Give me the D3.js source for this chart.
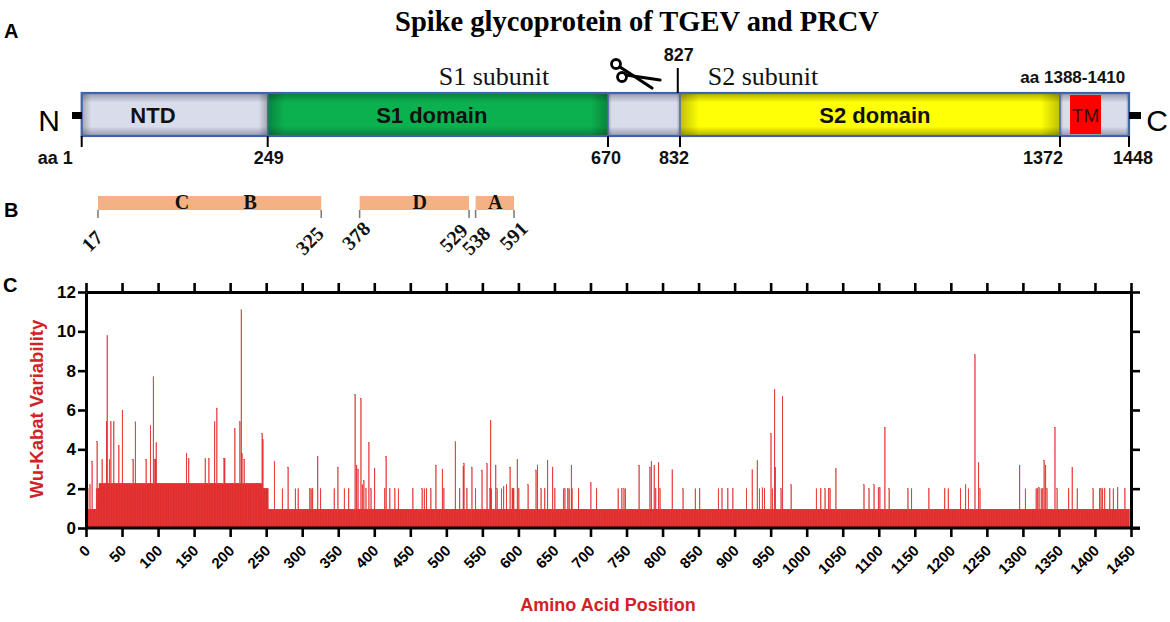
<!DOCTYPE html>
<html><head><meta charset="utf-8">
<script src="https://cdn.jsdelivr.net/npm/d3@7"></script>
<style>body{margin:0;background:#fff}svg{display:block}</style>
</head><body><svg id="c" width="1170" height="622"></svg>
<script>
// ---------------- DATA ----------------
const figureTitle = "Spike glycoprotein of TGEV and PRCV";
const proteinLength = 1448;
const proteinDomains = [
  {name:"NTD", start:1, end:249, labelAt:96, kind:"plain"},
  {name:"S1 domain", start:249, end:670, labelAt:452, kind:"s1"},
  {name:"", start:670, end:832, kind:"plain"},
  {name:"S2 domain", start:832, end:1372, labelAt:1109, kind:"s2"},
  {name:"", start:1372, end:1448, kind:"plain"}
];
const tmRegion = {name:"TM", start:1388, end:1410, label:"aa 1388-1410"};
const boundaryTicks = [1, 249, 670, 832, 1372, 1448];
const boundaryLabels = ["aa 1", "249", "670", "832", "1372", "1448"];
const cleavageSite = 827;
const subunitLabels = [{text:"S1 subunit", at:529}, {text:"S2 subunit", at:950}];

const epitopeRegions = [{start:17, end:325}, {start:378, end:529}, {start:538, end:591}];
const epitopeSites = [{site:"C", at:133}, {site:"B", at:227}, {site:"D", at:461}, {site:"A", at:565}];
const epitopeTicks = [17, 325, 378, 529, 538, 591];

// Wu-Kabat variability: baseline runs [start, end, value] and individual peaks [position, value]
const baseRuns = [[1,14,0.95],[15,18,2.0],[19,244,2.25],[245,253,2.0],[254,1448,0.95]];
const peaks = [
 [1,5.1],[3,2.0],[6,2.2],[9,3.4],[16,4.4],[23,3.5],[29,5.4],[30,9.8],[33,3.5],[35,5.4],[39,5.4],
 [46,4.2],[51,6.0],[66,3.5],[69,5.4],[84,3.5],[90,5.2],[94,7.7],[96,3.5],[97,3.5],[98,4.35],
 [140,3.8],[143,3.55],[166,3.55],[171,3.55],[179,5.4],[182,6.1],[192,3.55],[193,3.55],
 [207,5.05],[214,5.4],[216,11.1],[217,3.8],[220,3.5],[245,4.8],[246,4.5],
 [262,3.4],[273,2.0],[281,3.1],[291,2.0],[295,2.0],[311,2.0],[313,2.0],[315,2.0],[322,3.65],[326,2.0],
 [345,2.0],[350,3.1],[359,2.0],[365,2.0],[374,6.8],[376,3.2],[378,3.0],[382,6.6],[384,2.2],[386,2.4],
 [389,2.0],[393,4.35],[396,2.0],[401,3.05],[415,2.0],[417,3.65],[422,2.0],[429,2.0],[434,2.0],
 [454,2.0],[467,2.0],[470,2.0],[473,2.0],[479,2.0],[486,3.2],[495,3.0],[497,2.0],[513,4.4],[519,2.0],
 [524,3.15],[525,3.3],[529,2.0],[536,3.1],[541,2.0],[550,2.95],[557,3.27],[561,2.0],[562,5.48],[563,2.0],
 [569,3.2],[571,2.0],[577,2.0],[580,2.1],[584,2.2],[589,3.1],[592,2.0],[593,2.0],[594,2.0],[599,3.5],
 [601,2.0],[614,2.2],[625,2.95],[627,3.2],[632,2.0],[637,2.0],[641,3.44],[648,3.1],[651,2.0],[663,2.0],
 [665,2.0],[669,2.0],[671,2.0],[674,3.2],[675,2.0],[684,2.0],[701,2.3],[709,2.0],[739,2.0],[744,2.0],
 [747,2.0],[749,2.0],[768,3.2],[783,3.1],[785,3.4],[789,3.2],[791,2.0],[795,3.33],[797,2.0],[814,2.96],
 [829,2.0],[846,2.0],[852,2.0],[878,2.0],[883,2.0],[891,2.0],[898,2.0],[917,2.0],[925,2.96],[932,3.44],
 [935,2.0],[939,2.05],[942,2.0],[951,4.8],[953,2.0],[956,7.05],[957,3.1],[965,2.0],[967,6.7],[979,2.2],
 [1014,2.0],[1020,2.0],[1026,2.0],[1031,2.0],[1033,2.0],[1041,3.02],[1080,2.2],[1087,2.0],[1094,2.2],
 [1100,2.05],[1102,2.05],[1109,5.13],[1115,2.0],[1141,2.0],[1146,2.0],[1170,2.0],[1192,2.0],[1197,2.0],
 [1214,2.0],[1221,2.2],[1225,2.0],[1234,8.81],[1239,3.33],[1241,2.0],[1296,3.2],[1304,2.0],[1319,2.0],
 [1321,2.0],[1323,2.05],[1326,2.0],[1328,2.0],[1330,3.44],[1332,3.2],[1334,2.0],[1345,5.13],[1348,2.0],
 [1364,2.0],[1369,3.1],[1376,2.0],[1398,2.0],[1407,2.0],[1409,2.0],[1411,2.0],[1414,2.0],[1421,2.0],
 [1426,2.0],[1432,2.05],[1442,2.0]
];
const xTickValues = [0,50,100,150,200,250,300,350,400,450,500,550,600,650,700,750,800,850,900,950,1000,1050,1100,1150,1200,1250,1300,1350,1400,1450];
const yTickValues = [0,2,4,6,8,10,12];
const yTitle = "Wu-Kabat Variability";
const xTitle = "Amino Acid Position";

// ---------------- DRAW ----------------
const svg = d3.select("#c");
const SANS = "'Liberation Sans', Arial, sans-serif";
const SERIF = "'Liberation Serif', 'Times New Roman', serif";
const defs = svg.append("defs");

function vGrad(id, edge, mid) {
  const g = defs.append("linearGradient").attr("id", id).attr("x1",0).attr("y1",0).attr("x2",0).attr("y2",1);
  [[0,edge],[0.22,mid],[0.78,mid],[1,edge]].forEach(([o,c]) => g.append("stop").attr("offset",o).attr("stop-color",c));
}
vGrad("gPlain", "#9498aa", "#d9dceb");
vGrad("gS1", "#0a7f37", "#0bb04f");
vGrad("gS2", "#b0ac00", "#ffff06");
const hg = defs.append("linearGradient").attr("id","gSide").attr("x1",0).attr("y1",0).attr("x2",1).attr("y2",0);
[[0,0.25],[0.05,0],[0.95,0],[1,0.25]].forEach(([o,a]) => hg.append("stop").attr("offset",o).attr("stop-color","#000").attr("stop-opacity",a));
const fillFor = {plain:"url(#gPlain)", s1:"url(#gS1)", s2:"url(#gS2)"};

// Panel letters
[["A",4,38],["B",4,217],["C",3,292]].forEach(([t,x,y]) =>
  svg.append("text").attr("x",x).attr("y",y).attr("font-family",SANS).attr("font-weight","bold").attr("font-size",20).text(t));

// Title
svg.append("text").attr("x",637).attr("y",31).attr("text-anchor","middle").attr("font-family",SERIF)
  .attr("font-weight","bold").attr("font-size",28.5).text(figureTitle);

// ---- Panel A: domain schematic (schematic, not to scale) ----
const aScale = d3.scaleLinear()
  .domain([1, 249, 670, 832, 1372, 1388, 1410, 1448])
  .range([81.7, 267.7, 608, 680, 1060, 1070, 1101, 1129]);
const barTop = 93, barH = 43;
const gA = svg.append("g");
gA.selectAll("rect.seg").data(proteinDomains).join("rect").attr("class","seg")
  .attr("x", d => aScale(d.start)).attr("y", barTop)
  .attr("width", d => aScale(d.end) - aScale(d.start)).attr("height", barH)
  .attr("fill", d => fillFor[d.kind]);
gA.selectAll("rect.side").data(proteinDomains).join("rect").attr("class","side")
  .attr("x", d => aScale(d.start)).attr("y", barTop)
  .attr("width", d => aScale(d.end) - aScale(d.start)).attr("height", barH)
  .attr("fill", "url(#gSide)");
gA.append("rect").attr("x", aScale(tmRegion.start)).attr("y", barTop + 2)
  .attr("width", aScale(tmRegion.end) - aScale(tmRegion.start)).attr("height", barH - 4).attr("fill", "#ff0000");
gA.selectAll("line.div").data(proteinDomains.slice(1)).join("line").attr("class","div")
  .attr("x1", d => aScale(d.start)).attr("x2", d => aScale(d.start))
  .attr("y1", barTop).attr("y2", barTop + barH).attr("stroke", "#4a68b0").attr("stroke-width", 1.5);
gA.append("rect").attr("x", aScale(1)).attr("y", barTop).attr("width", aScale(proteinLength) - aScale(1))
  .attr("height", barH).attr("fill", "none").attr("stroke", "#3f63b0").attr("stroke-width", 2.2);
gA.selectAll("text.dom").data(proteinDomains.filter(d => d.name)).join("text").attr("class","dom")
  .attr("x", d => aScale(d.labelAt)).attr("y", barTop + barH/2 + 8).attr("text-anchor","middle")
  .attr("font-family", SANS).attr("font-weight","bold").attr("font-size", 22).attr("fill","#111").text(d => d.name);
gA.append("text").attr("x", (aScale(tmRegion.start) + aScale(tmRegion.end))/2).attr("y", barTop + barH/2 + 7)
  .attr("text-anchor","middle").attr("font-family",SANS).attr("font-size",19).attr("fill","#3a0a0a").text(tmRegion.name);
gA.append("text").attr("x", aScale(1390)).attr("y", 83).attr("text-anchor","middle")
  .attr("font-family",SANS).attr("font-weight","bold").attr("font-size",17).attr("fill","#111").text(tmRegion.label);
gA.append("rect").attr("x", 72).attr("y", 112).attr("width", 10).attr("height", 7).attr("fill","#000");
gA.append("rect").attr("x", aScale(proteinLength)).attr("y", 112).attr("width", 12).attr("height", 7).attr("fill","#000");
gA.append("text").attr("x", 49).attr("y", 131).attr("text-anchor","middle").attr("font-family",SANS).attr("font-size",30).text("N");
gA.append("text").attr("x", 1157).attr("y", 131).attr("text-anchor","middle").attr("font-family",SANS).attr("font-size",30).text("C");
gA.selectAll("line.bt").data(boundaryTicks).join("line").attr("class","bt")
  .attr("x1", d => aScale(d)).attr("x2", d => aScale(d)).attr("y1", barTop + barH).attr("y2", 147)
  .attr("stroke","#000").attr("stroke-width",2);
const boundaryAnchor = ["end","middle","middle","middle","end","middle"];
const boundaryShift = [-9, 1, -2, -6, 3, 4];
gA.selectAll("text.bl").data(boundaryLabels).join("text").attr("class","bl")
  .attr("x", (d,i) => aScale(boundaryTicks[i]) + boundaryShift[i]).attr("y", 164)
  .attr("text-anchor", (d,i) => boundaryAnchor[i]).attr("font-family",SANS).attr("font-weight","bold")
  .attr("font-size",18).attr("fill","#111").text(d => d);
gA.append("line").attr("x1", aScale(cleavageSite)).attr("x2", aScale(cleavageSite)).attr("y1", 68).attr("y2", barTop)
  .attr("stroke","#000").attr("stroke-width",2);
gA.append("text").attr("x", aScale(cleavageSite) + 1).attr("y", 61).attr("text-anchor","middle").attr("font-family",SANS)
  .attr("font-weight","bold").attr("font-size",18).attr("fill","#111").text(cleavageSite);
// scissors
const sc = gA.append("g").attr("stroke","#000").attr("fill","none").attr("stroke-width",2.8).attr("stroke-linecap","round");
sc.append("circle").attr("cx",616).attr("cy",64).attr("r",4.5);
sc.append("circle").attr("cx",622).attr("cy",77).attr("r",4.5);
sc.append("path").attr("d","M620,67 L652,88").attr("stroke-width",3.2);
sc.append("path").attr("d","M626,75 L660,80").attr("stroke-width",3.2);
gA.selectAll("text.sub").data(subunitLabels).join("text").attr("class","sub")
  .attr("x", d => aScale(d.at)).attr("y", 85).attr("text-anchor","middle").attr("font-family",SERIF)
  .attr("font-size",26).attr("fill","#111").text(d => d.text);

// ---- Panel B: epitope regions ----
const bScale = d3.scaleLinear().domain([17, 591]).range([98, 514]);
const gB = svg.append("g");
gB.selectAll("rect").data(epitopeRegions).join("rect")
  .attr("x", d => bScale(d.start)).attr("y", 196).attr("width", d => bScale(d.end) - bScale(d.start))
  .attr("height", 14).attr("fill", "#f4b183");
gB.selectAll("text.site").data(epitopeSites).join("text").attr("class","site")
  .attr("x", d => bScale(d.at)).attr("y", 209).attr("text-anchor","middle").attr("font-family",SERIF)
  .attr("font-weight","bold").attr("font-size",20).attr("fill","#111").text(d => d.site);
gB.selectAll("line").data(epitopeTicks).join("line")
  .attr("x1", d => bScale(d)).attr("x2", d => bScale(d)).attr("y1", 210).attr("y2", 218)
  .attr("stroke","#777").attr("stroke-width",1.5);
const etShiftX = [1, -1, 7, -5, 11, 10];
const etY = [234, 230, 225, 227, 230, 225];
gB.selectAll("text.et").data(epitopeTicks).join("text").attr("class","et")
  .attr("transform", (d,i) => `translate(${bScale(d) + etShiftX[i]},${etY[i]}) rotate(-45)`).attr("dy","0.35em")
  .attr("text-anchor","end").attr("font-family",SERIF).attr("font-weight","bold").attr("font-size",20)
  .attr("fill","#111").text(d => d);

// ---- Panel C: variability bar chart ----
const values = [];
baseRuns.forEach(([s, e, v]) => { for (let i = s; i <= e; i++) values[i] = v; });
peaks.forEach(([p, v]) => { values[p] = v; });
const bars = [];
for (let i = 1; i <= proteinLength; i++) bars.push({pos: i, v: values[i]});

const x = d3.scaleLinear().domain([0, 1450]).range([86, 1131]);
const y = d3.scaleLinear().domain([0, 12]).range([528, 292]);
const gC = svg.append("g");
gC.selectAll("rect").data(bars).join("rect")
  .attr("x", d => x(d.pos - 1)).attr("width", d => x(d.pos) - x(d.pos - 1))
  .attr("y", d => y(d.v)).attr("height", d => y(0) - y(d.v))
  .attr("fill", "#ff0000").attr("stroke", "#c23a3a").attr("stroke-width", 0.3);

function styleAxis(g) {
  g.select(".domain").attr("stroke","#000").attr("stroke-width",3);
  g.selectAll(".tick line").attr("stroke","#000").attr("stroke-width",2.6);
}
const axB = svg.append("g").attr("transform", `translate(0,${y(0)})`)
  .call(d3.axisBottom(x).tickValues(xTickValues).tickSize(9).tickSizeOuter(0).tickFormat(d3.format("d")));
styleAxis(axB);
axB.selectAll(".tick text").attr("transform","translate(1,20) rotate(-45)").attr("x",0).attr("y",0).attr("dy","0.35em")
  .attr("text-anchor","end").attr("font-family",SANS).attr("font-weight","bold").attr("font-size",15).attr("fill","#000");
axB.select(".domain").attr("d", `M${x(0)-1},0H${x(1450)+9}`);

const axT = svg.append("g").attr("transform", `translate(0,${y(12)})`)
  .call(d3.axisTop(x).tickValues(xTickValues).tickSize(9).tickSizeOuter(0).tickFormat(""));
styleAxis(axT);

const axL = svg.append("g").attr("transform", `translate(${x(0)},0)`)
  .call(d3.axisLeft(y).tickValues(yTickValues).tickSize(8).tickSizeOuter(0));
styleAxis(axL);
axL.selectAll(".tick text").attr("x",-10).attr("font-family",SANS).attr("font-weight","bold").attr("font-size",17).attr("fill","#000");

const axR = svg.append("g").attr("transform", `translate(${x(1450)},0)`)
  .call(d3.axisRight(y).tickValues(yTickValues).tickSize(9).tickSizeOuter(0).tickFormat(""));
styleAxis(axR);

svg.append("text").attr("transform","translate(43,409) rotate(-90)").attr("text-anchor","middle")
  .attr("font-family",SANS).attr("font-weight","bold").attr("font-size",18.5).attr("fill","#d42027").text(yTitle);
svg.append("text").attr("x",608).attr("y",611).attr("text-anchor","middle")
  .attr("font-family",SANS).attr("font-weight","bold").attr("font-size",18).attr("fill","#d42027").text(xTitle);
</script></body></html>
